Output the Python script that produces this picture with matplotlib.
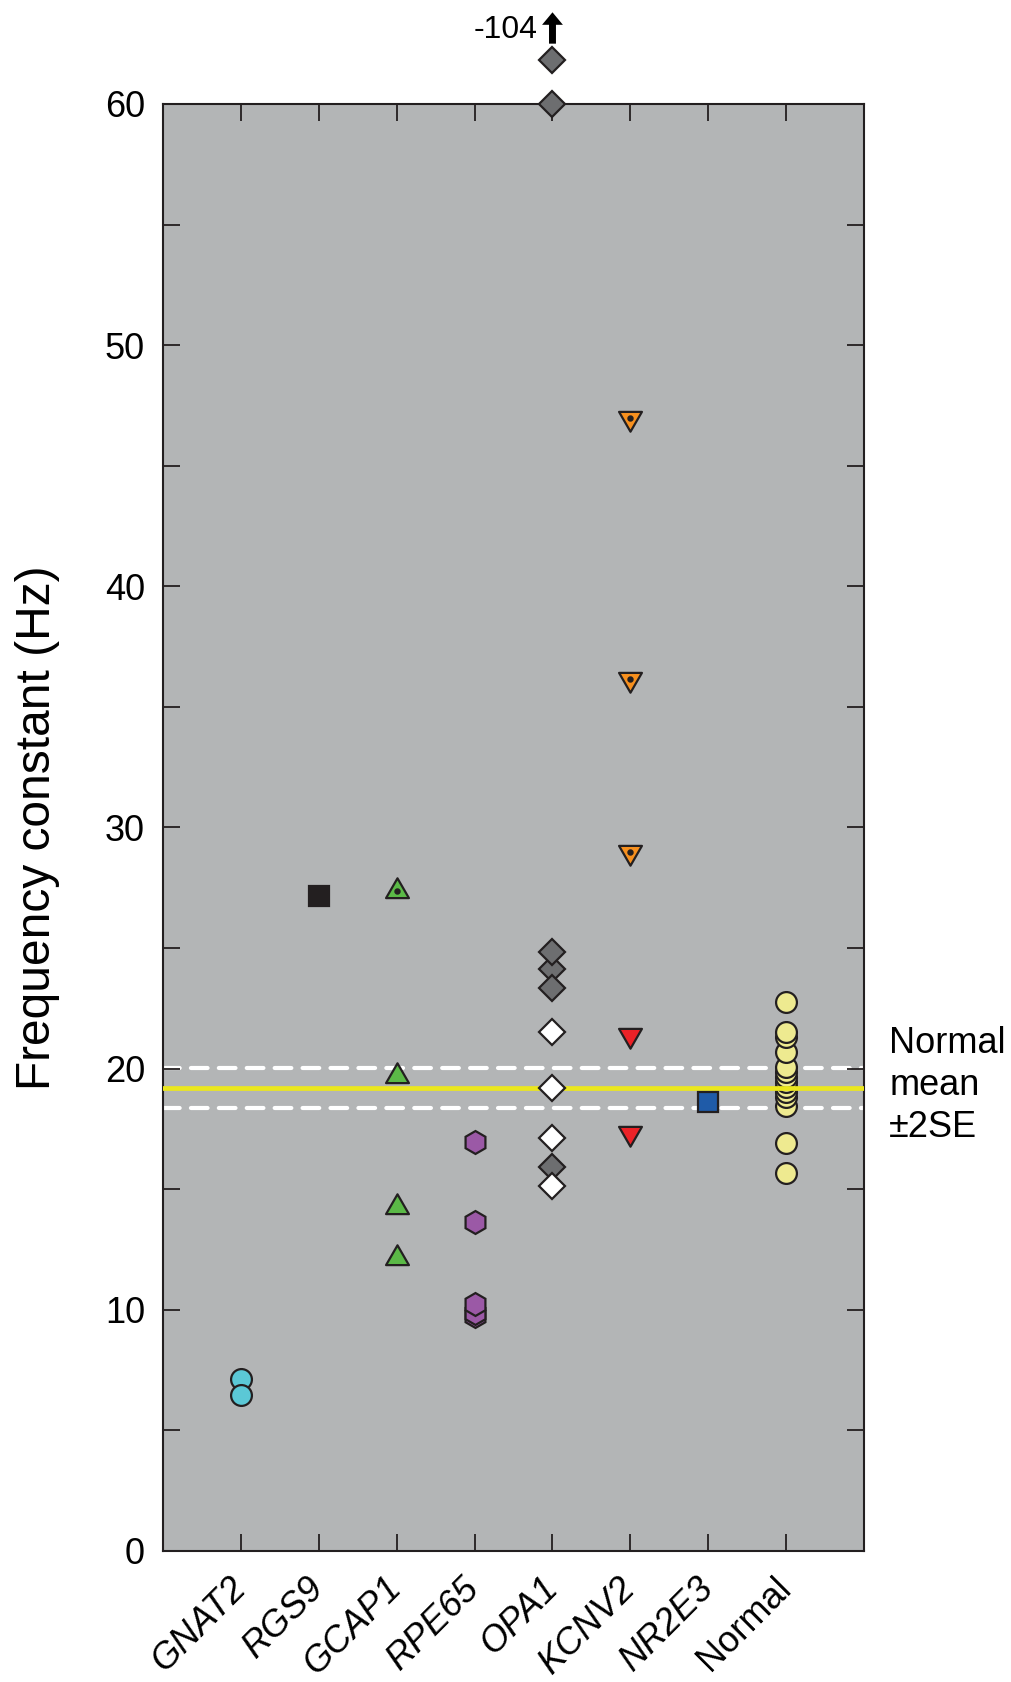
import matplotlib
matplotlib.use('Agg')
import matplotlib.pyplot as plt
import matplotlib.transforms as mtransforms
from matplotlib.path import Path

plt.rcParams['font.family'] = ['Liberation Sans', 'DejaVu Sans']

genes = ['GNAT2', 'RGS9', 'GCAP1', 'RPE65', 'OPA1', 'KCNV2', 'NR2E3', 'Normal']

# values (Hz)
gnat2 = [7.14, 6.45]
rgs9 = [27.17]
gcap1_dot = [27.38]
gcap1 = [19.69, 14.27, 12.14]
rpe65 = [9.75, 9.85, 10.25, 13.64, 16.97]
opa1_gray = [24.12, 24.84, 23.33, 15.92]
opa1_white = [21.52, 19.21, 17.13, 15.13]
opa1_offscale = [60.0, 61.83]
opa1_offscale_label = '-104'
kcnv2_dot = [46.97, 36.15, 29.0]
kcnv2 = [21.38, 17.33]
nr2e3 = [18.61]
normal = [15.66, 16.9, 18.46, 18.81, 19.02, 19.22, 19.43, 19.64, 19.85,
          20.05, 20.68, 21.3, 21.5, 22.76]

normal_mean = 19.21
normal_2se = 0.83

edge = '#231f20'
# equilateral triangles centred on their centroid (dot sits in the middle)
tri_up = Path([(0, 0.577), (-0.5, -0.289), (0.5, -0.289), (0, 0.577)],
              closed=True)
tri_down = Path([(0, -0.577), (-0.5, 0.289), (0.5, 0.289), (0, -0.577)],
                closed=True)

fig = plt.figure(figsize=(10.12, 16.82), dpi=100)
ax = fig.add_axes([0.1611, 0.0779, 0.6927, 0.8603])
ax.set_facecolor('#b3b5b6')


def pts(x, ys, marker, ms, fc, z=5, clip=True):
    ax.plot([x] * len(ys), ys, linestyle='none', marker=marker, ms=ms,
            mfc=fc, mec=edge, mew=1.6, zorder=z, clip_on=clip)


# normal mean +-2SE
ax.axhline(normal_mean + normal_2se, color='white', lw=3, dashes=(4, 2.7),
           dash_capstyle='round', zorder=1.5)
ax.axhline(normal_mean - normal_2se, color='white', lw=3, dashes=(4, 2.7),
           dash_capstyle='round', zorder=1.5)
pts(8, normal, 'o', 15, '#eeea90', z=2)
ax.axhline(normal_mean, color='#ebe71d', lw=3.4, zorder=3)

pts(1, gnat2, 'o', 15, '#5bc8d6')
pts(2, rgs9, 's', 14.5, '#231f20')
pts(3, gcap1, tri_up, 19, '#5bb947')
pts(3, gcap1_dot, tri_up, 19, '#5bb947')
pts(3, gcap1_dot, 'o', 3, edge, z=6)
pts(4, rpe65, 'h', 16.5, '#9b59a6')
pts(5, opa1_gray, 'D', 13, '#6d6e70')
pts(5, opa1_white, 'D', 13, 'white')
pts(5, opa1_offscale, 'D', 13, '#6d6e70', z=6, clip=False)
pts(6, kcnv2_dot, tri_down, 19, '#f7901e')
pts(6, kcnv2_dot, 'o', 3, edge, z=6)
pts(6, kcnv2, tri_down, 19, '#ec2227')
pts(7, nr2e3, 's', 14, '#1f5ba8')

# off-scale marker for OPA1
ax.annotate('', xy=(5, 63.8), xytext=(5, 62.5), annotation_clip=False,
            arrowprops=dict(facecolor='black', edgecolor='none', width=5,
                            headwidth=15, headlength=9, shrink=0))
ax.text(5, 63.08, opa1_offscale_label, ha='right', va='center', fontsize=23,
        transform=mtransforms.offset_copy(ax.transData, fig=fig, x=-11, y=0,
                                          units='points'))

trans = mtransforms.blended_transform_factory(ax.transAxes, ax.transData)
ax.text(1.036, 19.3, 'Normal\nmean\n\u00b12SE', transform=trans, ha='left',
        va='center', fontsize=26, linespacing=1.25)

ax.set_xlim(0, 9)
ax.set_ylim(0, 60)
ax.set_yticks(range(0, 61, 10))
ax.set_yticks(range(5, 60, 10), minor=True)
ax.set_xticks(range(1, 9))
ax.set_xticklabels(genes, fontsize=26, rotation=45, ha='right', va='center',
                   rotation_mode='anchor')
for lab in ax.get_xticklabels():
    if lab.get_text() != 'Normal':
        lab.set_fontstyle('italic')
ax.tick_params(axis='both', which='both', direction='in', length=12,
               width=1.3, color=edge, top=True, right=True, labelsize=26)
ax.tick_params(axis='x', pad=23)
ax.tick_params(axis='y', pad=13)
for s in ax.spines.values():
    s.set_linewidth(1.5)
    s.set_color(edge)

ax.set_ylabel('Frequency constant (Hz)', fontsize=34.5, labelpad=32)

fig.savefig('out.png', dpi=100)
